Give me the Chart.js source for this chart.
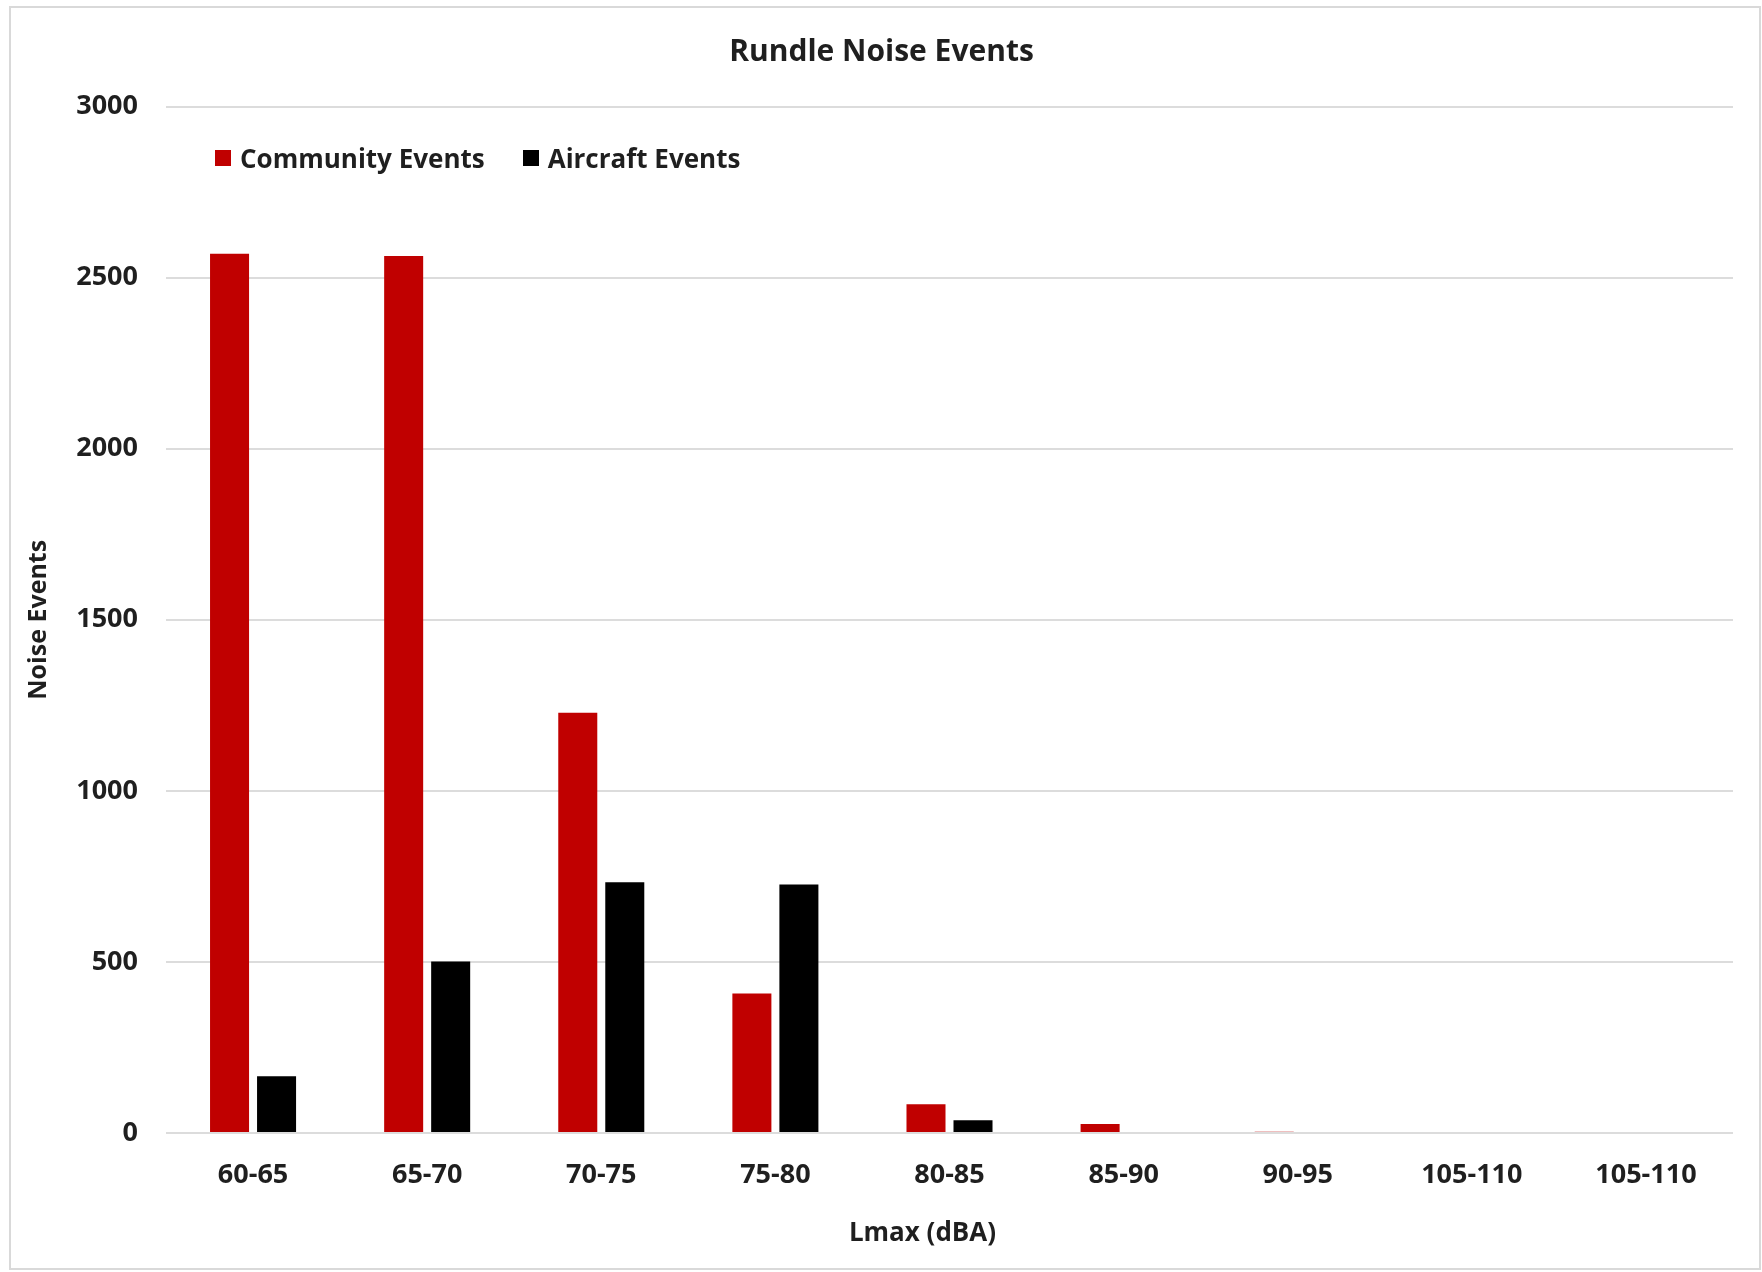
<!DOCTYPE html>
<html>
<head>
<meta charset="utf-8">
<script src="https://cdn.jsdelivr.net/npm/chart.js@4.4.1/dist/chart.umd.min.js"></script>
<style>
  html, body { margin: 0; padding: 0; background: #fff; }
  #wrap { position: relative; width: 1762px; height: 1272px; }
  #frame {
    position: absolute; left: 9px; top: 6px; width: 1748px; height: 1260px;
    border: 2px solid #d9d9d9; pointer-events: none;
  }
  #legend {
    position: absolute; left: 215px; top: 140px; display: flex; align-items: center;
    font: bold 26px "Open Sans", sans-serif; color: #1f1f1f; white-space: nowrap;
  }
  #legend .item { display: flex; align-items: center; margin-right: 38px; }
  #legend .swatch { width: 16px; height: 16px; margin-right: 9px; }
</style>
</head>
<body>
<div id="wrap">
  <canvas id="noiseChart" width="1762" height="1272"></canvas>
  <div id="legend"></div>
  <div id="frame"></div>
</div>
<script>
// Lmax bins (dBA) as labelled on the original chart
const categories = ['60-65', '65-70', '70-75', '75-80', '80-85', '85-90', '90-95', '105-110', '105-110'];
const communityEvents = [2570, 2563, 1228, 408, 84, 26, 4, 0, 0];
const aircraftEvents = [166, 501, 733, 726, 37, 0, 0, 0, 0];
const yTicks = [0, 500, 1000, 1500, 2000, 2500, 3000];

const textColor = '#1f1f1f';
const fontFamily = '"Open Sans", sans-serif';

const ctx = document.getElementById('noiseChart');

const chart = new Chart(ctx, {
    type: 'bar',
    data: {
        labels: categories,
        datasets: [{
            label: 'Community Events',
            data: communityEvents,
            backgroundColor: '#c00000',
            borderWidth: 0
        }, {
            label: 'Aircraft Events',
            data: aircraftEvents,
            backgroundColor: '#000000',
            borderWidth: 0
        }]
    },
    options: {
        responsive: false,
        animation: false,
        devicePixelRatio: 1,
        categoryPercentage: 0.54,
        barPercentage: 0.83,
        layout: {
            padding: { top: 18, left: 30, right: 29, bottom: 20 }
        },
        plugins: {
            title: {
                display: true,
                text: 'Rundle Noise Events',
                color: textColor,
                font: { family: fontFamily, size: 30, weight: 'bold' },
                padding: { top: 16, bottom: 36.6 }
            },
            legend: { display: false },
            tooltip: { enabled: false }
        },
        scales: {
            x: {
                grid: { display: false, drawTicks: false },
                border: { display: false },
                ticks: {
                    color: textColor,
                    font: { family: fontFamily, size: 27, weight: 'bold' },
                    padding: 26,
                    maxRotation: 0,
                    autoSkip: false
                },
                title: {
                    display: true,
                    // trailing spaces nudge the centred title left, as in the original
                    text: 'Lmax (dBA)        ',
                    color: textColor,
                    font: { family: fontFamily, size: 26, weight: 'bold' },
                    padding: { top: 0, bottom: 3 }
                },
                afterFit: function (scale) {
                    scale.height = 119;
                }
            },
            y: {
                min: 0,
                max: 3000,
                afterBuildTicks: function (scale) {
                    scale.ticks = yTicks.map(v => ({ value: v }));
                },
                grid: {
                    color: '#dcdcdc',
                    lineWidth: 2,
                    drawTicks: false
                },
                border: { display: false },
                ticks: {
                    color: textColor,
                    font: { family: fontFamily, size: 27, weight: 'bold' },
                    padding: 28,
                    callback: function (value) { return String(value); }
                },
                title: {
                    display: true,
                    text: 'Noise Events',
                    color: textColor,
                    font: { family: fontFamily, size: 25, weight: 'bold' },
                    padding: { top: -6, bottom: 0 }
                },
                afterFit: function (scale) {
                    scale.width = 136;
                }
            }
        }
    }
});

// legend drawn in HTML so it can sit inside the plot area like the original
const legendEl = document.getElementById('legend');
chart.data.datasets.forEach(function (ds) {
    const item = document.createElement('div');
    item.className = 'item';
    const swatch = document.createElement('span');
    swatch.className = 'swatch';
    swatch.style.background = ds.backgroundColor;
    const label = document.createElement('span');
    label.textContent = ds.label;
    item.appendChild(swatch);
    item.appendChild(label);
    legendEl.appendChild(item);
});
</script>
</body>
</html>
